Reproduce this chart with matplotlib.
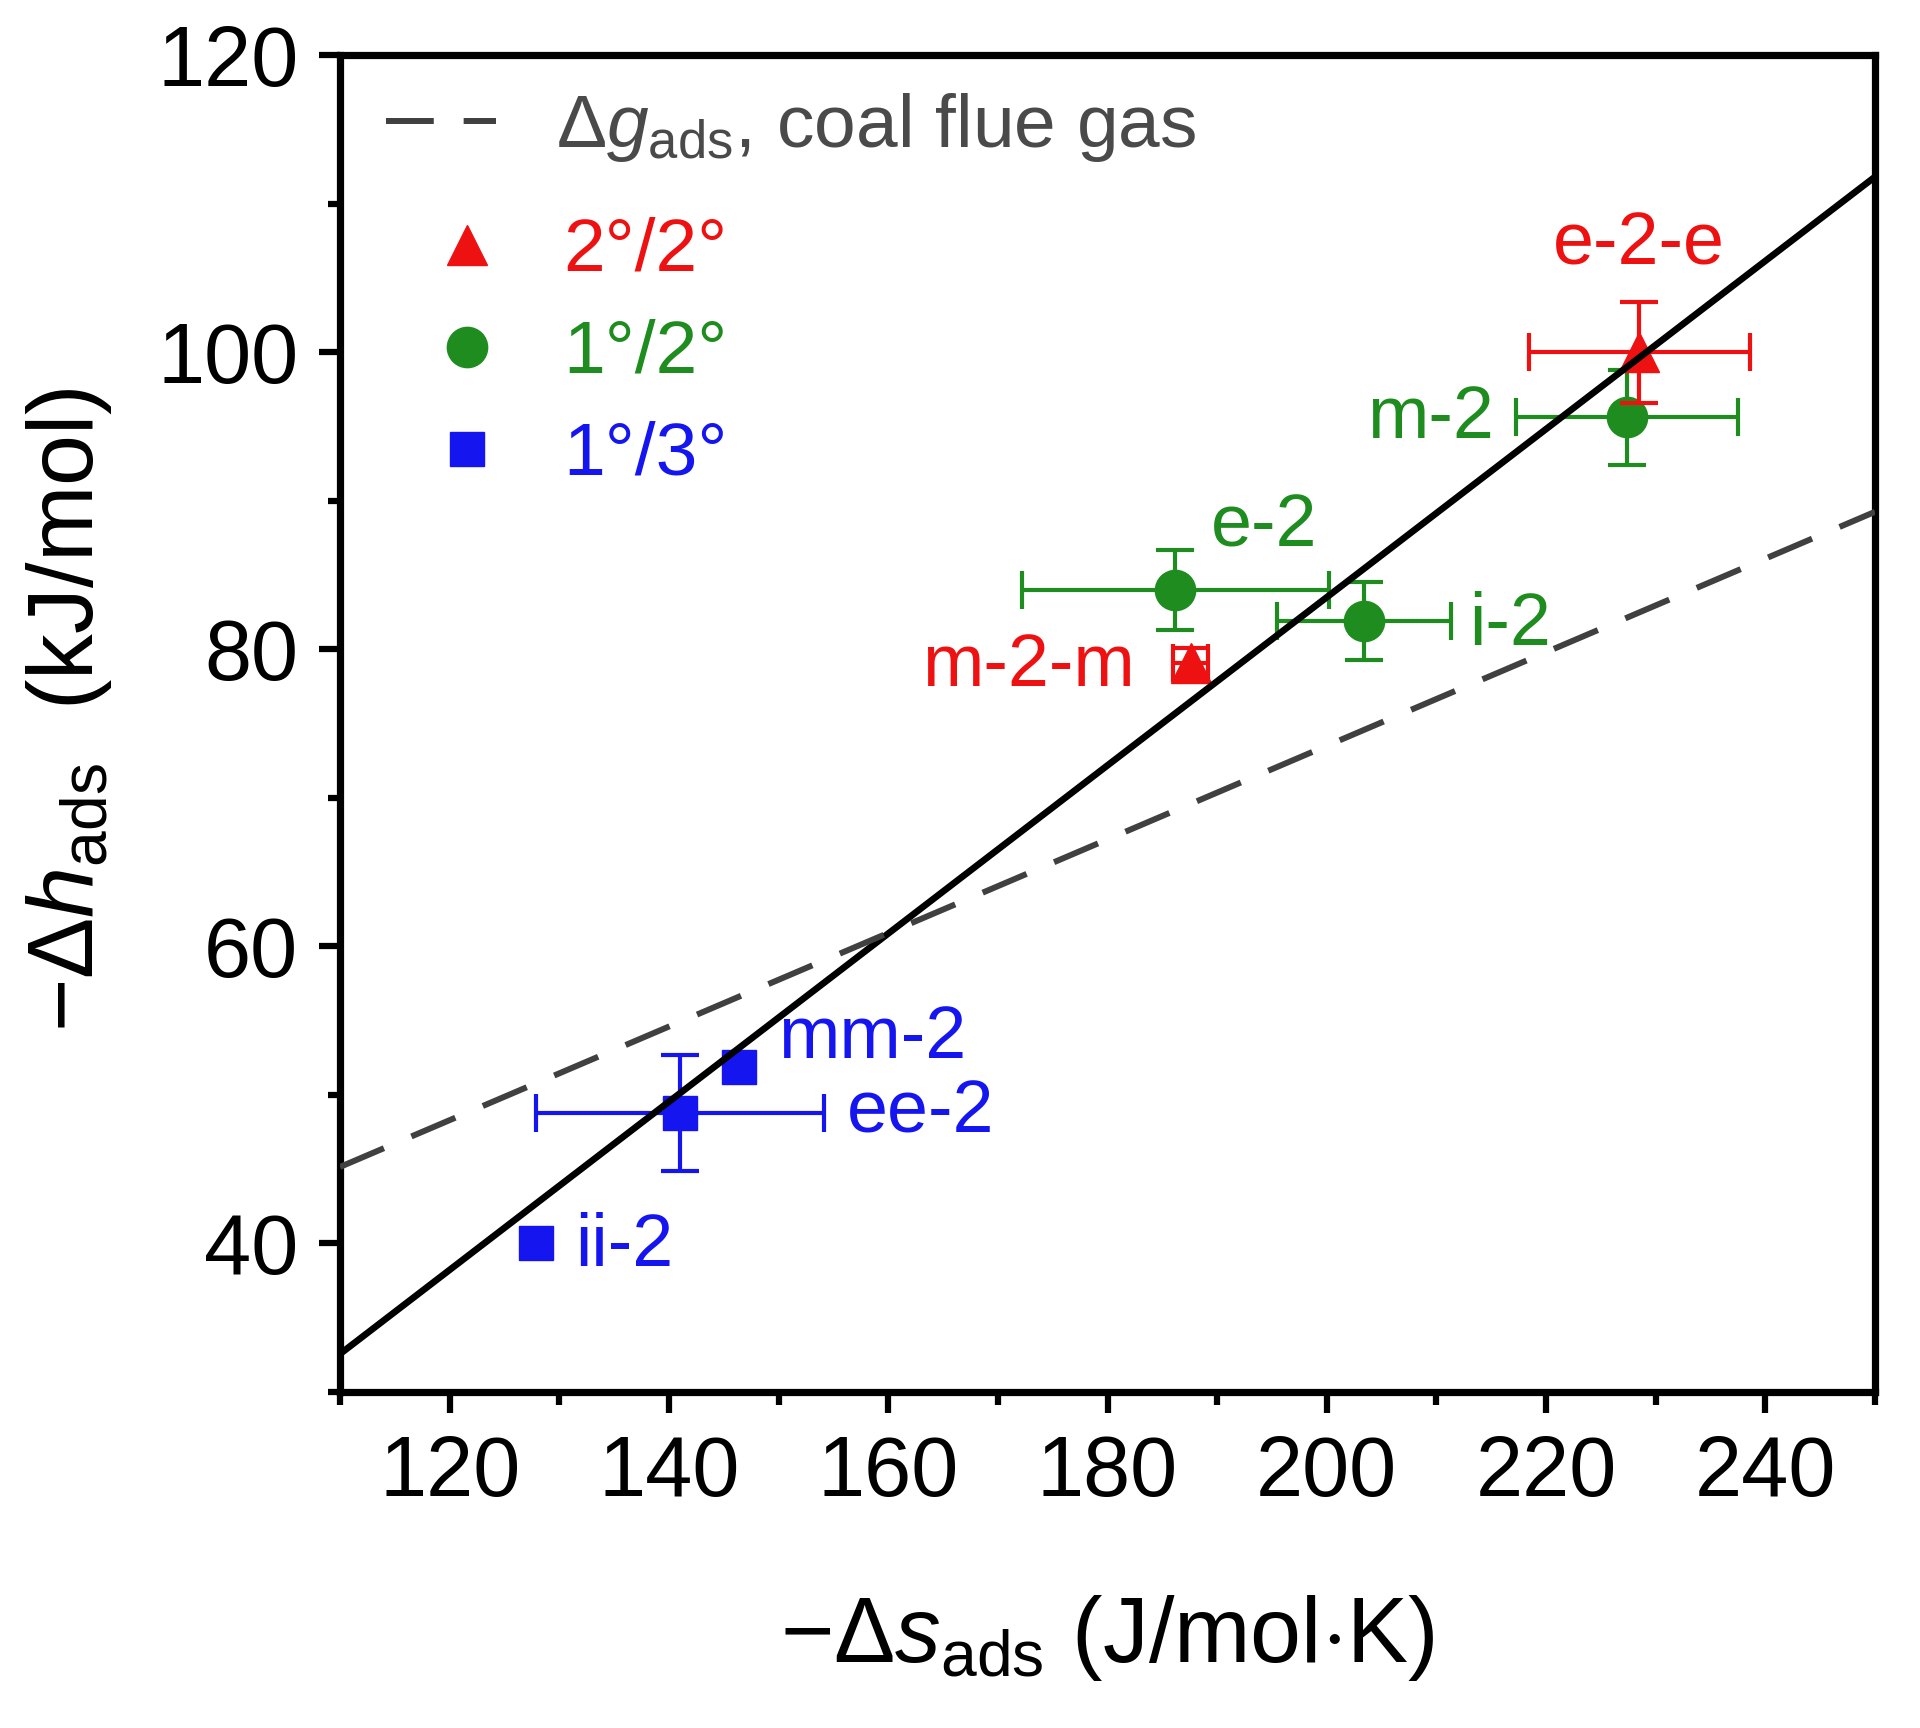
import numpy as np
import matplotlib
matplotlib.use("Agg")
import matplotlib.pyplot as plt
from matplotlib.lines import Line2D
from matplotlib.ticker import MultipleLocator

# --- data ---
red_names = ["e-2-e", "m-2-m"]
red_x = [228.5, 187.6]
red_y = [100.0, 79.1]
red_xerr = [10.1, 1.6]
red_yerr = [3.4, 1.0]

green_names = ["m-2", "e-2", "i-2"]
green_x = [227.4, 186.2, 203.4]
green_y = [95.6, 84.0, 81.9]
green_xerr = [10.1, 14.0, 7.9]
green_yerr = [3.2, 2.7, 2.6]

blue_names = ["mm-2", "ee-2", "ii-2"]
blue_x = [146.4, 141.0, 127.9]
blue_y = [51.9, 48.8, 40.0]
blue_xerr = [np.nan, 13.1, np.nan]
blue_yerr = [np.nan, 3.9, np.nan]

# linear fit through the points and the dg = const line for coal flue gas
fit_slope, fit_intercept = 0.566, -29.7
flue_slope, flue_intercept = 0.315, 10.5

# label offsets (points) and alignment for each annotation
label_layout = {
    "e-2-e": (0, 63, "center"),
    "m-2-m": (-40, -17, "right"),
    "m-2": (-96, -15, "right"),
    "e-2": (64, 31, "center"),
    "i-2": (76, -17, "left"),
    "mm-2": (28, 6, "left"),
    "ee-2": (120, -14, "left"),
    "ii-2": (28, -16, "left"),
}

RED = "#ee1111"
GREEN = "#1e8c1e"
BLUE = "#1515f0"
GRAY = "#404040"

plt.rcParams["font.family"] = ["Liberation Sans", "DejaVu Sans"]
plt.rcParams["mathtext.fontset"] = "custom"
plt.rcParams["mathtext.rm"] = "Liberation Sans"
plt.rcParams["mathtext.it"] = "Liberation Sans:italic"
plt.rcParams["mathtext.bf"] = "Liberation Sans:bold"

fig = plt.figure(figsize=(19.2, 17.28), dpi=100)
ax = fig.add_axes([340 / 1920, 336 / 1728, 1535 / 1920, 1337 / 1728])

xs = np.array([110, 250])
ax.plot(xs, fit_slope * xs + fit_intercept, color="black", lw=4.8, zorder=6,
        solid_capstyle="butt")
flue_line, = ax.plot(xs, flue_slope * xs + flue_intercept, color=GRAY, lw=4.3,
                     dashes=(8, 5), zorder=6)

def draw_group(x, y, xerr, yerr, names, color, marker, ms, z):
    ax.errorbar(x, y, xerr=xerr, yerr=yerr, fmt="none", ecolor=color,
                elinewidth=3.0, capsize=14, capthick=3.0, zorder=z)
    ax.plot(x, y, ls="none", marker=marker, ms=ms, color=color,
            mec=color, zorder=z)
    for name, px, py in zip(names, x, y):
        dx, dy, ha = label_layout[name]
        ax.annotate(name, xy=(px, py), xytext=(dx, dy), textcoords="offset points",
                    ha=ha, va="baseline", color=color, fontsize=53, zorder=7)

draw_group(blue_x, blue_y, blue_xerr, blue_yerr, blue_names, BLUE, "s", 25, 3)
draw_group(green_x, green_y, green_xerr, green_yerr, green_names, GREEN, "o", 29, 4)
draw_group(red_x, red_y, red_xerr, red_yerr, red_names, RED, "^", 29, 5)

ax.set_xlim(110, 250)
ax.set_ylim(30, 120)
ax.xaxis.set_major_locator(MultipleLocator(20))
ax.xaxis.set_minor_locator(MultipleLocator(10))
ax.yaxis.set_major_locator(MultipleLocator(20))
ax.yaxis.set_minor_locator(MultipleLocator(10))
ax.tick_params(which="both", direction="out", width=4.5, top=False, right=False)
ax.tick_params(which="major", length=15, labelsize=61, pad=15)
ax.tick_params(which="minor", length=9)
for sp in ax.spines.values():
    sp.set_linewidth(5.2)

ax.set_xlabel(r"$-\Delta s_{\mathrm{ads}}$ (J/mol$\cdot$K)", fontsize=66)
ax.set_ylabel(r"$-\Delta h_{\mathrm{ads}}$  (kJ/mol)", fontsize=66)
ax.xaxis.set_label_coords(0.5, -0.15)
ax.yaxis.set_label_coords(-0.147, 0.51)

# legend: dashed line entry on top, marker entries below it
leg1 = ax.legend([flue_line], [r"$\Delta g_{\mathrm{ads}}$, coal flue gas"],
                 loc="upper left", bbox_to_anchor=(0.03, 0.973), frameon=False,
                 fontsize=54, handlelength=1.47, handletextpad=0.8,
                 borderpad=0, borderaxespad=0)
leg1.get_texts()[0].set_color("#4a4a4a")
ax.add_artist(leg1)

handles = [
    Line2D([], [], ls="none", marker="^", ms=29, color=RED),
    Line2D([], [], ls="none", marker="o", ms=29, color=GREEN),
    Line2D([], [], ls="none", marker="s", ms=25, color=BLUE),
]
labels = ["2°/2°", "1°/2°", "1°/3°"]
leg2 = ax.legend(handles, labels, loc="upper left", bbox_to_anchor=(0.0583, 0.879),
                 frameon=False, fontsize=54, handlelength=1.0, handletextpad=0.78,
                 borderpad=0, borderaxespad=0, labelspacing=0.44)
for txt, col in zip(leg2.get_texts(), [RED, GREEN, BLUE]):
    txt.set_color(col)

fig.savefig("out.png", dpi=100)
